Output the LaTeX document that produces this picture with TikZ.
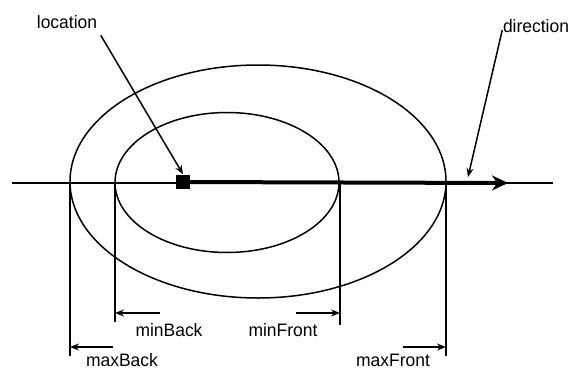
\documentclass[tikz,border=0pt]{standalone}
\usepackage{fontspec}
\setmainfont{Liberation Sans}
\usetikzlibrary{arrows.meta}
\begin{document}
\begin{tikzpicture}[x=1pt, y=-1pt, >={Stealth[length=9pt, width=7pt]}, line width=1.5pt,
    every node/.style={font=\fontsize{18}{20}\selectfont, inner sep=0pt, xscale=0.97},
    dimline/.style={line width=1.6pt}]
  \useasboundingbox (0,0) rectangle (572,370);
  % axis
  \coordinate (axL) at (12,183);
  \coordinate (axR) at (553,183);
  \coordinate (tip) at (508,183);
  \draw (axL) -- (axR);

  % ranges
  \draw (258,181.5) ellipse [x radius=188, y radius=116.5];
  \draw (227,182.5) ellipse [x radius=112, y radius=70];

  % location and direction
  \node[fill, minimum width=15pt, minimum height=14pt] (loc) at (183,182) {};
  \draw[line width=4pt, -{Stealth[length=16pt, width=15pt]}] (loc.center) -- (tip);

  % labels on top
  \node (location) at (67,22) {location};
  \node (direction) at (536,26) {direction};
  \draw[->] ([shift={(3pt,-6pt)}]location.south east) -- (loc.north);
  \draw[->] ([yshift=-4pt]direction.west) -- (468,177);

  % back limits
  \coordinate (maxB) at (70,183);
  \coordinate (minB) at (115,183);
  \draw[dimline] (maxB) -- (70,356);
  \draw[dimline] (minB) -- (115,322);
  \draw[->] (160,313) -- (115,313);
  \draw[->] (113,347) -- (70,347);
  \node (minBack) at (169,330) {minBack};
  \node (maxBack) at (122,360) {maxBack};

  % front limits
  \coordinate (minF) at (340,183);
  \coordinate (maxF) at (446,183);
  \draw[dimline] (minF) -- (340,325);
  \draw[dimline] (maxF) -- (446,356);
  \draw[->] (296,313) -- (340,313);
  \draw[->] (403,347) -- (446,347);
  \node (minFront) at (283,330) {minFront};
  \node (maxFront) at (393,360) {maxFront};
\end{tikzpicture}
\end{document}
